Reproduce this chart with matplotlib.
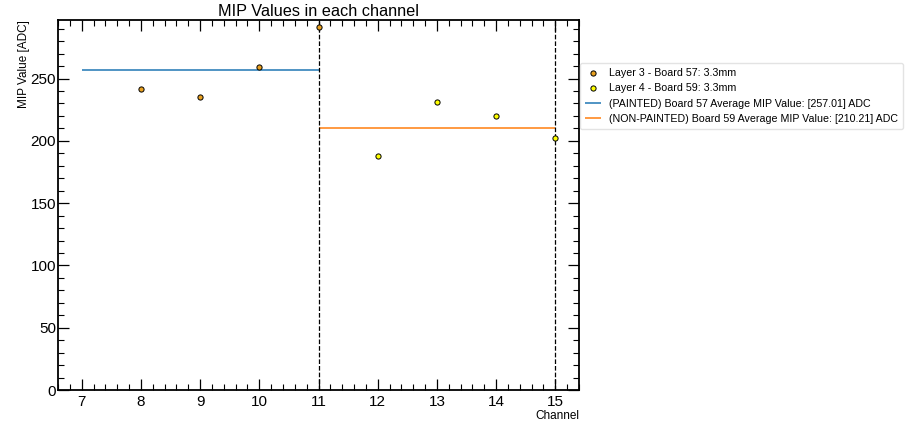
import matplotlib
matplotlib.use('Agg')
import matplotlib.pyplot as plt
from matplotlib.ticker import AutoMinorLocator, MultipleLocator

plt.rcParams['font.family'] = ['Liberation Sans', 'DejaVu Sans']

## Datos
ch_l3 = [8, 9, 10, 11]
mip_l3 = [242.0, 235.5, 259.3, 291.2]
ch_l4 = [12, 13, 14, 15]
mip_l4 = [187.8, 230.9, 219.6, 202.5]
avg_l3 = 257.01
avg_l4 = 210.21
separadores = [11, 15]

fig = plt.figure(figsize=(9.1, 4.23), dpi=100)
ax = fig.add_axes([58/910, 1 - 390/423, (579-58)/910, (390-20)/423])

ax.scatter(ch_l3, mip_l3, s=14, c='#e8a020', edgecolors='black', linewidths=0.7, zorder=3,
           label='Layer 3 - Board 57: 3.3mm')
ax.scatter(ch_l4, mip_l4, s=14, c='yellow', edgecolors='black', linewidths=0.7, zorder=3,
           label='Layer 4 - Board 59: 3.3mm')
ax.hlines(avg_l3, 7, 11, colors='tab:blue', linewidth=1.1,
          label='(PAINTED) Board 57 Average MIP Value: [{:.2f}] ADC'.format(avg_l3))
ax.hlines(avg_l4, 11, 15, colors='tab:orange', linewidth=1.1,
          label='(NON-PAINTED) Board 59 Average MIP Value: [{:.2f}] ADC'.format(avg_l4))
for x in separadores:
    ax.axvline(x, color='black', linestyle='--', linewidth=0.9, zorder=2)

ax.set_xlim(6.6, 15.4)
ax.set_ylim(0, 297)
ax.xaxis.set_major_locator(MultipleLocator(1))
ax.xaxis.set_minor_locator(AutoMinorLocator(5))
ax.yaxis.set_major_locator(MultipleLocator(50))
ax.yaxis.set_minor_locator(AutoMinorLocator(5))
ax.tick_params(which='both', direction='in', top=True, right=True, labelsize=11)
ax.tick_params(axis='y', pad=1.5)
ax.tick_params(which='major', length=8, width=0.9)
ax.tick_params(which='minor', length=4, width=0.8)
for s in ax.spines.values():
    s.set_linewidth(1.3)

ax.set_title('MIP Values in each channel', fontsize=11.7, pad=3)
ax.set_xlabel('Channel', fontsize=8.5, loc='right', labelpad=1)
ax.set_ylabel('MIP Value [ADC]', fontsize=8.5, loc='top', labelpad=0)

leg = ax.legend(loc='upper left', bbox_to_anchor=(1.0, 0.888), fontsize=7.7, frameon=True,
                borderaxespad=0.1, handlelength=1.5, handletextpad=0.7, labelspacing=0.5,
                borderpad=0.5, fancybox=True)
leg.get_frame().set_edgecolor('#dddddd')

fig.savefig('out.png', dpi=100)
